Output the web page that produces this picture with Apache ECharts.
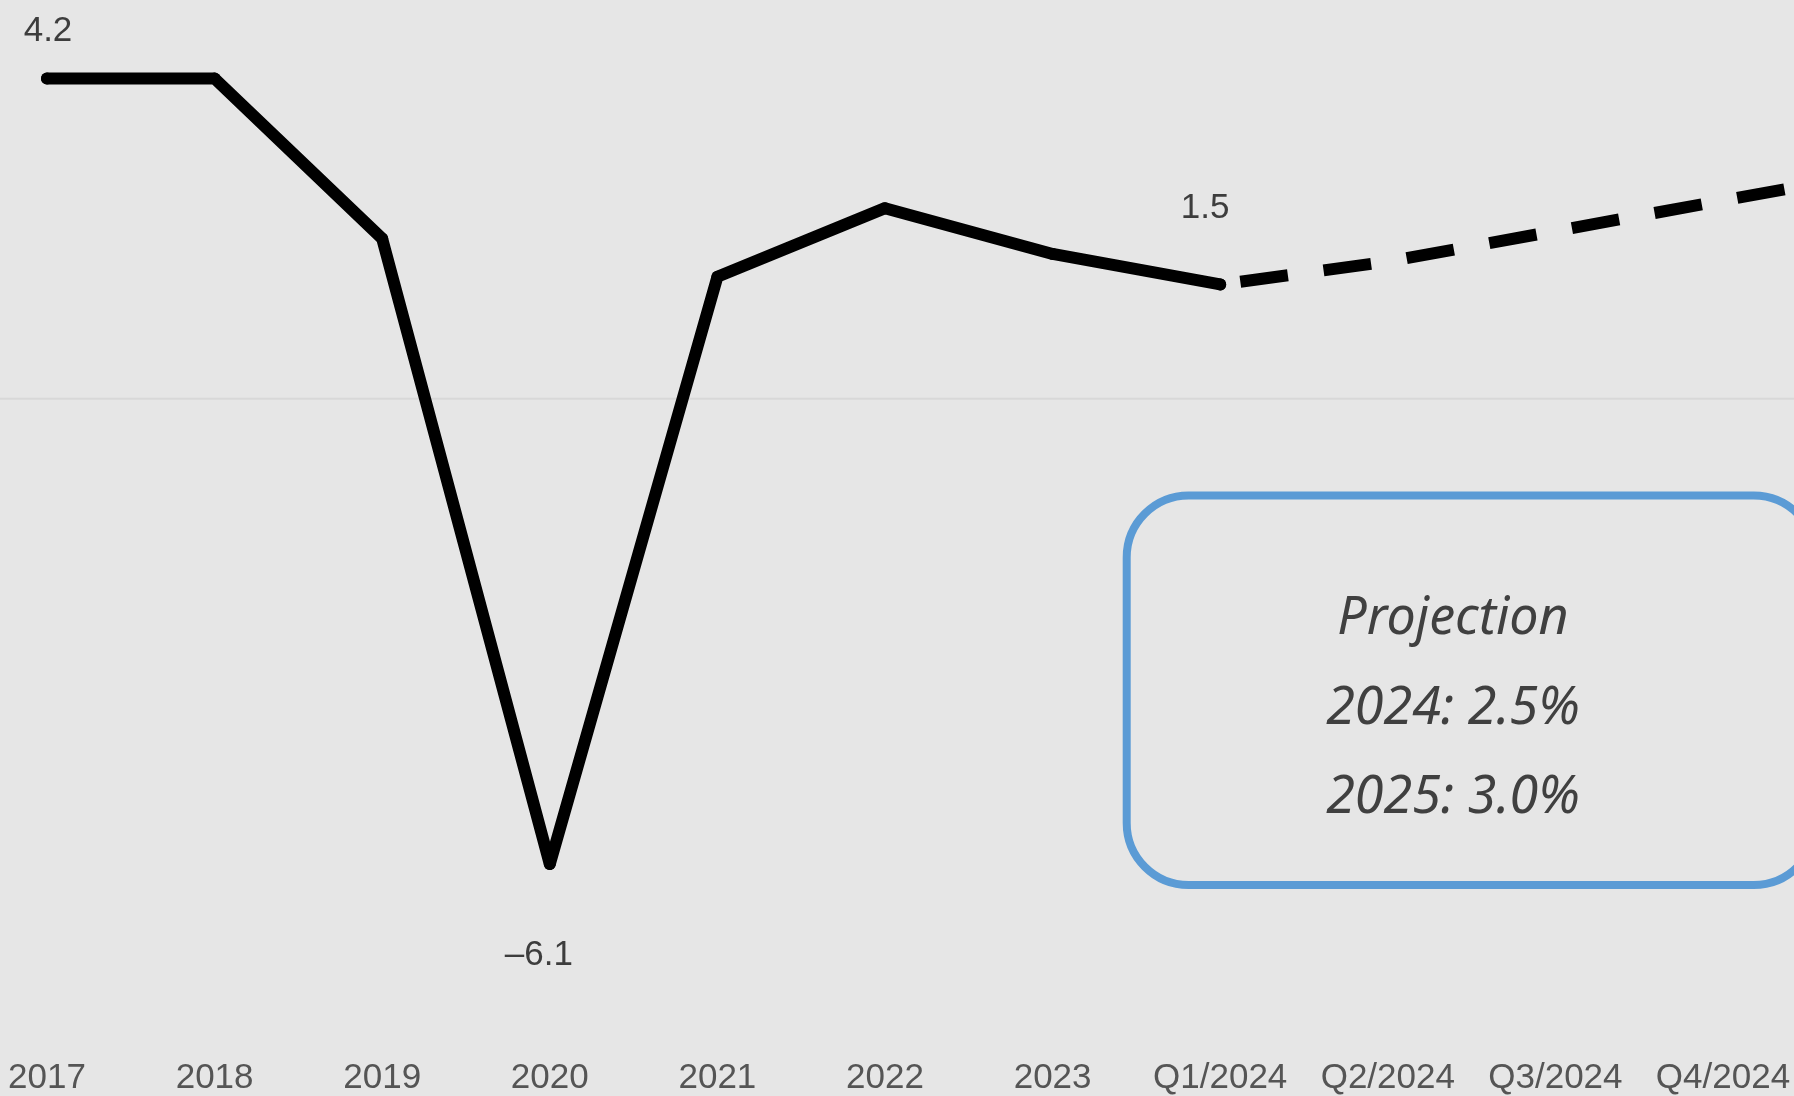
<!DOCTYPE html>
<html>
<head>
<meta charset="utf-8">
<script src="https://cdn.jsdelivr.net/npm/echarts@6/dist/echarts.min.js"></script>
<style>
html,body{margin:0;padding:0;background:#e6e6e6;overflow:hidden;width:1794px;height:1096px;}
#chart{width:1960px;height:1096px;}
</style>
</head>
<body>
<div id="chart"></div>
<script>
// Categories (the last one, 2025, lies beyond the visible edge)
const categories = ['2017','2018','2019','2020','2021','2022','2023','Q1/2024','Q2/2024','Q3/2024','Q4/2024','2025'];
// Actual growth (solid line)
const actualValues = [4.2, 4.2, 2.1, -6.1, 1.6, 2.5, 1.9, 1.5, null, null, null, null];
// Projected growth (dashed line)
const projectedValues = [null, null, null, null, null, null, null, 1.5, 1.8, 2.2, 2.6, 3.0];
// Projection box texts
const boxLines = ['Projection', '2024: 2.5%', '2025: 3.0%'];

// label placement (index -> offset), kept apart from the data
const labelOffsets = { 0: [1, -47], 3: [-11, 91], 7: [-15, -76] };

const fmt = v => (v < 0 ? '\u2013' + Math.abs(v) : String(v));

const actualData = actualValues.map((v, i) => {
  if (labelOffsets[i] && v !== null) {
    return { value: v, label: { show: true, position: 'inside', offset: labelOffsets[i] } };
  }
  return v;
});

const chart = echarts.init(document.getElementById('chart'), null, { renderer: 'canvas' });

const boxX = 1126.7, boxY = 495.5, boxW = 689, boxH = 389.5;
const textCx = 1453;
const textYs = [619, 709, 798];

chart.setOption({
  backgroundColor: '#e6e6e6',
  animation: false,
  grid: { left: 47, right: 69.4, top: 17.5, bottom: 78.8, containLabel: false },
  xAxis: {
    type: 'category',
    data: categories,
    boundaryGap: false,
    axisLine: { show: false },
    axisTick: { show: false },
    splitLine: { show: false },
    axisLabel: {
      color: '#555555',
      fontSize: 35,
      fontFamily: 'Liberation Sans, Arial, sans-serif',
      margin: 52,
      interval: 0
    }
  },
  yAxis: {
    type: 'value',
    min: -8,
    max: 5,
    show: false,
    splitLine: { show: false }
  },
  series: [
    {
      type: 'line',
      data: actualData,
      symbol: 'circle',
      symbolSize: 12,
      showAllSymbol: true,
      itemStyle: { color: '#000000' },
      lineStyle: { color: '#000000', width: 12, cap: 'round', join: 'round' },
      label: {
        show: false,
        color: '#3d3d3d',
        fontSize: 35,
        fontFamily: 'Liberation Sans, Arial, sans-serif',
        formatter: p => fmt(p.value)
      },
      z: 3
    },
    {
      type: 'line',
      data: projectedValues,
      showSymbol: false,
      lineStyle: { color: '#000000', width: 12, type: [48, 36], dashOffset: 63.7, cap: 'butt', join: 'miter' },
      z: 2
    }
  ]
});

// zero reference line across the full width, placed via the y axis scale
const zeroY = chart.convertToPixel({ yAxisIndex: 0 }, 0);

chart.setOption({
  graphic: [
    {
      type: 'line',
      shape: { x1: 0, y1: zeroY, x2: 1960, y2: zeroY },
      style: { stroke: '#d8d8d8', lineWidth: 2 },
      z: 0
    },
    {
      type: 'rect',
      shape: { x: boxX, y: boxY, width: boxW, height: boxH, r: 62 },
      style: { fill: 'none', stroke: '#5b9bd5', lineWidth: 8 },
      z: 10
    }
  ].concat(boxLines.map((t, i) => ({
    type: 'text',
    x: textCx,
    y: textYs[i],
    style: {
      text: t,
      fill: '#404040',
      font: 'italic 52px "Noto Sans", sans-serif',
      align: 'center',
      verticalAlign: 'middle'
    },
    z: 10
  })))
});
</script>
</body>
</html>
